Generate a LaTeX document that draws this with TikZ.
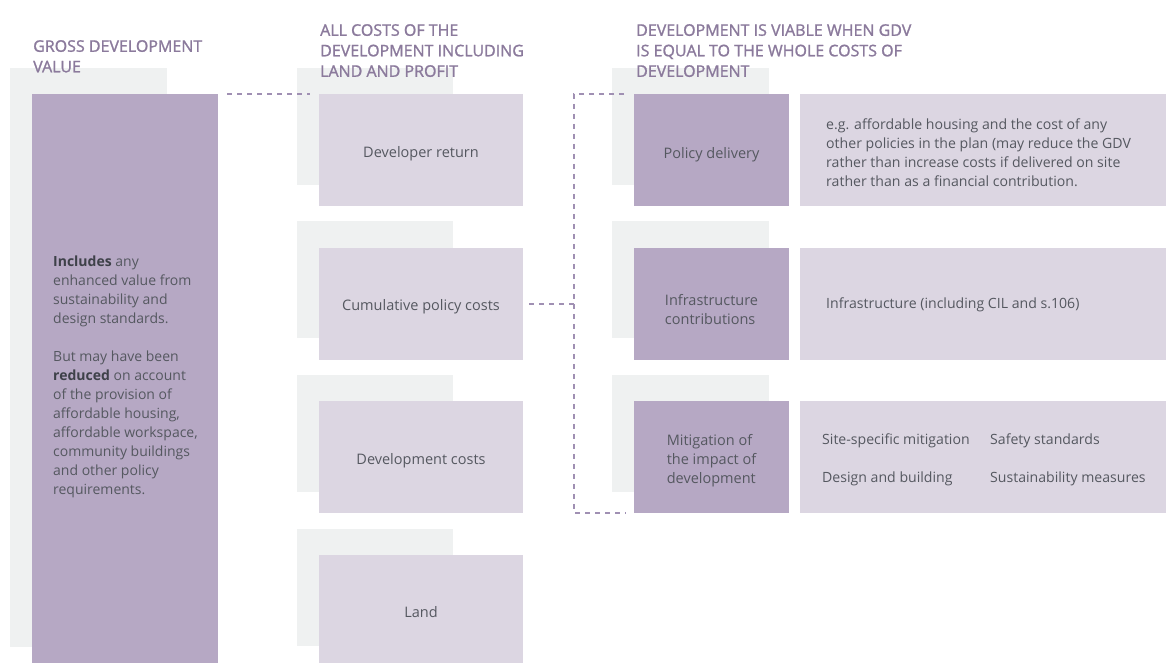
\documentclass[tikz,border=0pt]{standalone}
\usepackage{fontspec}
\setmainfont{Open Sans}
\newfontfamily\titlefont{Open Sans}[FakeBold=1.3]
\definecolor{darkc}{HTML}{B6A8C4}
\definecolor{lightc}{HTML}{DCD6E2}
\definecolor{backc}{HTML}{EFF1F1}
\definecolor{textc}{HTML}{555860}
\definecolor{boldc}{HTML}{3E4149}
\definecolor{titlec}{HTML}{8B7A9C}
\definecolor{dashc}{HTML}{A090B3}
\begin{document}
\begin{tikzpicture}[x=1pt,y=-1pt,
  box/.style={rectangle, draw=none, inner sep=0pt, outer sep=0pt, anchor=north west},
  backbox/.style={box, fill=backc},
  costbox/.style={box, fill=lightc, minimum width=204pt, minimum height=112pt},
  labbox/.style={box, fill=darkc, minimum width=155pt, minimum height=112pt},
  descbox/.style={box, fill=lightc, minimum width=366pt, minimum height=112pt},
  labtext/.style={inner sep=0pt, text=textc, align=left, font=\fontsize{14.5}{19}\selectfont},
  desctext/.style={inner sep=0pt, text=textc, font=\fontsize{14.1}{19}\selectfont},
  titletext/.style={inner sep=0pt, anchor=north west, align=left, text=titlec,
    font=\titlefont\fontsize{16}{20.5}\selectfont},
  conn/.style={draw=dashc, line width=1.1pt, dash pattern=on 5pt off 5pt}
]
\useasboundingbox (0,0) rectangle (1166,663);
\fill[white] (0,0) rectangle (1166,663);

% GDV column
\node[backbox, minimum width=157pt, minimum height=579pt] (gdvb) at (10,68) {};
\node[box, fill=darkc, minimum width=186pt, minimum height=569pt] (gdv) at (32,94) {};
\node[inner sep=0pt, anchor=north west, align=left, text=textc,
  font=\fontsize{14}{19}\selectfont] (gdvtxt) at (53,256)
  {{\color{boldc}\textbf{Includes}} any\\enhanced value from\\sustainability and\\design standards.\\[19pt]
   But may have been\\{\color{boldc}\textbf{reduced}} on account\\of the provision of\\affordable housing,\\affordable workspace,\\community buildings\\and other policy\\requirements.};

% cost column
\node[backbox, minimum width=156pt, minimum height=117pt] (b1) at (297,68) {};
\node[backbox, minimum width=156pt, minimum height=117pt] (b2) at (297,221) {};
\node[backbox, minimum width=156pt, minimum height=117pt] (b3) at (297,375) {};
\node[backbox, minimum width=156pt, minimum height=117pt] (b4) at (297,529) {};
\node[costbox] (dev) at (319,94) {};
\node[costbox] (cum) at (319,248) {};
\node[costbox] (devc) at (319,401) {};
\node[costbox, minimum height=108pt] (land) at (319,555) {};
\node[labtext] (devt) at ([yshift=-4pt]dev.center) {Developer return};
\node[labtext] (cumt) at ([yshift=-3pt]cum.center) {Cumulative policy costs};
\node[labtext] (devct) at ([yshift=-4pt]devc.center) {Development costs};
\node[labtext] (landt) at ([yshift=-3pt]land.center) {Land};

% viability column
\node[backbox, minimum width=157pt, minimum height=117pt] (r1) at (612,68) {};
\node[backbox, minimum width=157pt, minimum height=117pt] (r2) at (612,221) {};
\node[backbox, minimum width=157pt, minimum height=117pt] (r3) at (612,375) {};
\node[labbox] (pol) at (634,94) {};
\node[labbox] (inf) at (634,248) {};
\node[labbox] (mit) at (634,401) {};
\node[labtext] (polt) at ([yshift=-5pt]pol.center) {Policy delivery};
\node[labtext] (inft) at ([yshift=-6pt]inf.center) {Infrastructure\\contributions};
\node[labtext] (mitt) at ([yshift=-4pt]mit.center) {Mitigation of\\the impact of\\development};
\node[descbox] (d1) at (800,94) {};
\node[descbox] (d2) at (800,248) {};
\node[descbox] (d3) at (800,401) {};

\node[desctext, anchor=west, align=left] (d1t) at (826,153)
  {e.g. affordable housing and the cost of any\\other policies in the plan (may reduce the GDV\\rather than increase costs if delivered on site\\rather than as a financial contribution.};
\node[desctext, anchor=base west] (d2t) at (826,308) {Infrastructure (including CIL and s.106)};
\node[desctext, anchor=base west] (d3a) at (822,444) {Site-specific mitigation};
\node[desctext, anchor=base west] (d3b) at (990,444) {Safety standards};
\node[desctext, anchor=base west] (d3c) at (822,482) {Design and building};
\node[desctext, anchor=base west] (d3d) at (990,482) {Sustainability measures};

% connectors
\coordinate (jtop) at (574,94);
\coordinate (jbot) at (574,513);
\draw[conn] ([xshift=9pt]gdv.north east) -- ([xshift=-9pt]dev.north west);
\draw[conn] ([xshift=6pt]cum.east) -- (cum.east -| jtop);
\draw[conn] ([xshift=-10pt]pol.north west) -- (jtop) -- (jbot) -- ([xshift=-8pt]mit.south west);

% titles
\node[titletext] (t1) at (33,40) {GROSS DEVELOPMENT\\VALUE};
\node[titletext] (t2) at (320,24) {ALL COSTS OF THE\\DEVELOPMENT INCLUDING\\LAND AND PROFIT};
\node[titletext] (t3) at (636,24) {DEVELOPMENT IS VIABLE WHEN GDV\\IS EQUAL TO THE WHOLE COSTS OF\\DEVELOPMENT};
\end{tikzpicture}
\end{document}
